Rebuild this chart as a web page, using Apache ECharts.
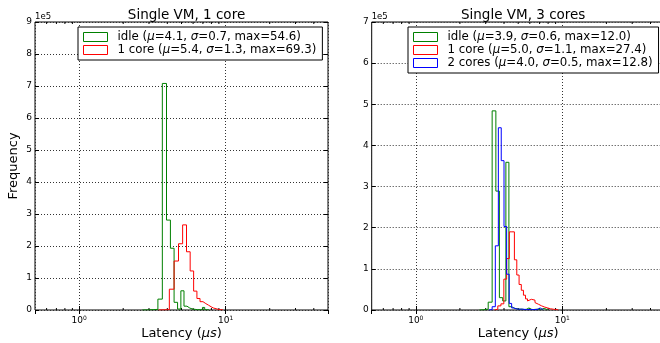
<!DOCTYPE html>
<html>
<head>
<meta charset="utf-8">
<script src="https://cdn.jsdelivr.net/npm/echarts@6/dist/echarts.min.js"></script>
<style>
html, body { margin: 0; padding: 0; background: #fff; overflow: hidden; }
#wrap { position: relative; width: 660px; height: 343px; overflow: hidden; }
#left { position: absolute; left: 0; top: 0; width: 330px; height: 343px; }
#right { position: absolute; left: 330px; top: 0; width: 340px; height: 343px; }
</style>
</head>
<body>
<div id="wrap">
    <div id="left"></div>
    <div id="right"></div>
</div>
<script>
// histogram bins: first bin edge, bin width, counts per bin (units of 1e5)
const leftIdleStart = 2.70, leftIdleWidth = 0.25;
const leftIdleCounts = [0.005, 0.01, 0.02, 0.34, 7.08, 2.81, 1.93, 0.24, 0.03, 0.6, 0.12, 0.06,
    0.03, 0.02, 0.01, 0.01, 0.01, 0.08, 0.01, 0.005];
const leftCoreStart = 3.49, leftCoreWidth = 0.32;
const leftCoreCounts = [0.005, 0.01, 0.65, 1.53, 2.07, 2.66, 1.82, 1.22, 0.59, 0.36, 0.26, 0.2,
    0.15, 0.1, 0.06, 0.04, 0.02, 0.01, 0.005];

const rightIdleStart = 2.72, rightIdleWidth = 0.2;
const rightIdleCounts = [0.005, 0.02, 0.19, 4.84, 2.89, 0.3, 0.22, 3.59, 0.08, 0.04, 0.03, 0.02,
    0.02, 0.01, 0.02, 0.05, 0.02, 0.01, 0.01, 0.02, 0.01, 0.01, 0.01, 0.04, 0.01, 0.005];
const rightCoreStart = 3.45, rightCoreWidth = 0.18;
const rightCoreCounts = [0.02, 0.1, 0.15, 0.75, 1.25, 1.9, 1.9, 1.22, 0.85, 0.62, 0.48, 0.36,
    0.27, 0.22, 0.26, 0.27, 0.24, 0.18, 0.14, 0.12, 0.1, 0.08, 0.07, 0.06, 0.05, 0.04, 0.03,
    0.03, 0.02, 0.02, 0.01, 0.01, 0.005];
const right2CoreStart = 3.15, right2CoreWidth = 0.17;
const right2CoreCounts = [0.01, 0.08, 1.56, 4.43, 3.63, 2.03, 0.87, 0.16, 0.05, 0.03, 0.02, 0.02,
    0.02, 0.02, 0.01, 0.02, 0.01, 0.01, 0.01, 0.01, 0.01, 0.05, 0.05, 0.01, 0.005];

const legendLeft = [
    '{t|idle (}{i|μ}{t|=4.1, }{i|σ}{t|=0.7, max=54.6)}',
    '{t|1 core (}{i|μ}{t|=5.4, }{i|σ}{t|=1.3, max=69.3)}'
];
const legendRight = [
    '{t|idle (}{i|μ}{t|=3.9, }{i|σ}{t|=0.6, max=12.0)}',
    '{t|1 core (}{i|μ}{t|=5.0, }{i|σ}{t|=1.1, max=27.4)}',
    '{t|2 cores (}{i|μ}{t|=4.0, }{i|σ}{t|=0.5, max=12.8)}'
];

const xMin = 0.5, xMax = 50;
const minorTicks = [0.6, 0.7, 0.8, 0.9, 2, 3, 4, 5, 6, 7, 8, 9, 20, 30, 40];

const FONT = 'DejaVu Sans';

// turn bins into an outline for a step line
function stepData(start, width, counts) {
    const pts = [[start, 0]];
    counts.forEach(function (c, i) { pts.push([start + i * width, c]); });
    pts.push([start + counts.length * width, 0]);
    return pts;
}

function makePanel(el, cfg) {
    const chart = echarts.init(el, null, { renderer: 'canvas' });
    const axisCommon = {
        type: 'log', logBase: 10, min: xMin, max: xMax, gridIndex: 0,
        axisLine: { show: false },
        axisTick: { show: true, inside: true, length: 4, lineStyle: { color: '#000', width: 1 } }
    };
    const yCommon = {
        type: 'value', min: 0, max: cfg.yMax, interval: 1,
        axisLine: { show: false },
        axisTick: { show: true, inside: true, length: 4, lineStyle: { color: '#000', width: 1 } }
    };
    const series = cfg.hists.map(function (h) {
        return {
            name: h.name, type: 'line', step: 'end', showSymbol: false, symbol: 'none',
            xAxisIndex: 0, yAxisIndex: 0,
            lineStyle: { color: h.color, width: 1 }, itemStyle: { color: h.color },
            data: stepData(h.start, h.width, h.counts),
            animation: false, silent: true
        };
    });
    series.push({
        type: 'custom', xAxisIndex: 0, yAxisIndex: 0, silent: true, animation: false,
        data: minorTicks.map(function (v) { return [v, 0]; }),
        renderItem: function (params, api) {
            const b = api.coord([api.value(0), 0]);
            const t = api.coord([api.value(0), cfg.yMax]);
            const st = { stroke: '#000', lineWidth: 1 };
            return { type: 'group', children: [
                { type: 'line', shape: { x1: b[0], y1: b[1], x2: b[0], y2: b[1] - 2 }, style: st },
                { type: 'line', shape: { x1: t[0], y1: t[1], x2: t[0], y2: t[1] + 2 }, style: st }
            ] };
        }
    });

    chart.setOption({
        animation: false,
        title: {
            text: cfg.title, left: cfg.gridLeft + 146.5, top: 3, textAlign: 'center',
            textStyle: { fontFamily: FONT, fontSize: 13.5, fontWeight: 'normal', color: '#000' }
        },
        grid: {
            left: cfg.gridLeft, top: 22, width: 293, height: 288,
            outerBoundsMode: 'none', containLabel: false,
            show: true, borderColor: '#000', borderWidth: 1, backgroundColor: '#fff'
        },
        legend: {
            orient: 'vertical', left: cfg.legendLeft, top: 27,
            padding: [4, 6, 4, 5], itemGap: 1, itemWidth: 24, itemHeight: 9,
            backgroundColor: '#fff', borderColor: '#000', borderWidth: 1,
            data: cfg.hists.map(function (h) {
                return { name: h.name, icon: 'rect',
                    itemStyle: { color: '#fff', borderColor: h.color, borderWidth: 1 } };
            }),
            formatter: function (name) {
                return cfg.hists.filter(function (h) { return h.name === name; })[0].label;
            },
            textStyle: {
                fontFamily: FONT, fontSize: 12, color: '#000', padding: [0, 0, 0, 5],
                rich: {
                    t: { fontFamily: FONT, fontSize: 11.8, lineHeight: 14 },
                    i: { fontFamily: FONT, fontSize: 11.8, fontStyle: 'italic', lineHeight: 14 }
                }
            }
        },
        xAxis: [
            Object.assign({}, axisCommon, {
                position: 'bottom',
                name: '{t|Latency (}{i|μs}{t|)}', nameLocation: 'middle', nameGap: 17,
                nameMoveOverlap: false,
                nameTextStyle: {
                    rich: {
                        t: { fontFamily: FONT, fontSize: 13, color: '#000' },
                        i: { fontFamily: FONT, fontSize: 13, fontStyle: 'italic', color: '#000' }
                    }
                },
                axisLabel: {
                    margin: 5, showMinLabel: false, showMaxLabel: false,
                    formatter: function (v) {
                        const p = Math.round(Math.log10(v));
                        if (Math.abs(Math.log10(v) - p) > 1e-6) return '';
                        return '{b|10}{s|' + p + '}';
                    },
                    rich: {
                        b: { fontFamily: FONT, fontSize: 9, color: '#000', lineHeight: 12 },
                        s: { fontFamily: FONT, fontSize: 6, color: '#000', verticalAlign: 'top', lineHeight: 12 }
                    }
                },
                splitLine: { show: true, lineStyle: { color: '#333', width: 1, type: [1, 2] } }
            }),
            Object.assign({}, axisCommon, {
                position: 'top', axisLabel: { show: false }, splitLine: { show: false }
            })
        ],
        yAxis: [
            Object.assign({}, yCommon, {
                position: 'left',
                name: cfg.yName, nameLocation: 'middle', nameGap: 15, nameRotate: 90,
                nameMoveOverlap: false,
                nameTextStyle: { fontFamily: FONT, fontSize: 13, color: '#000' },
                axisLabel: { fontFamily: FONT, fontSize: 9, color: '#000', margin: 3 },
                splitLine: { show: true, lineStyle: { color: '#333', width: 1, type: [1, 2] } }
            }),
            Object.assign({}, yCommon, {
                position: 'right', axisLabel: { show: false }, splitLine: { show: false }
            })
        ],
        graphic: [{
            type: 'text', left: cfg.gridLeft, top: 12,
            style: { text: '1e5', fontFamily: FONT, fontSize: 8.5, fill: '#000' }
        }],
        series: series
    });
    return chart;
}

makePanel(document.getElementById('left'), {
    title: 'Single VM, 1 core', gridLeft: 35, yMax: 9, yName: 'Frequency', legendLeft: 78,
    hists: [
        { name: 'L idle', color: '#008000', start: leftIdleStart, width: leftIdleWidth, counts: leftIdleCounts, label: legendLeft[0] },
        { name: 'L 1 core', color: '#ff0000', start: leftCoreStart, width: leftCoreWidth, counts: leftCoreCounts, label: legendLeft[1] }
    ]
});

makePanel(document.getElementById('right'), {
    title: 'Single VM, 3 cores', gridLeft: 41.7, yMax: 7, yName: '', legendLeft: 78,
    hists: [
        { name: 'R idle', color: '#008000', start: rightIdleStart, width: rightIdleWidth, counts: rightIdleCounts, label: legendRight[0] },
        { name: 'R 1 core', color: '#ff0000', start: rightCoreStart, width: rightCoreWidth, counts: rightCoreCounts, label: legendRight[1] },
        { name: 'R 2 cores', color: '#0000ff', start: right2CoreStart, width: right2CoreWidth, counts: right2CoreCounts, label: legendRight[2] }
    ]
});
</script>
</body>
</html>
